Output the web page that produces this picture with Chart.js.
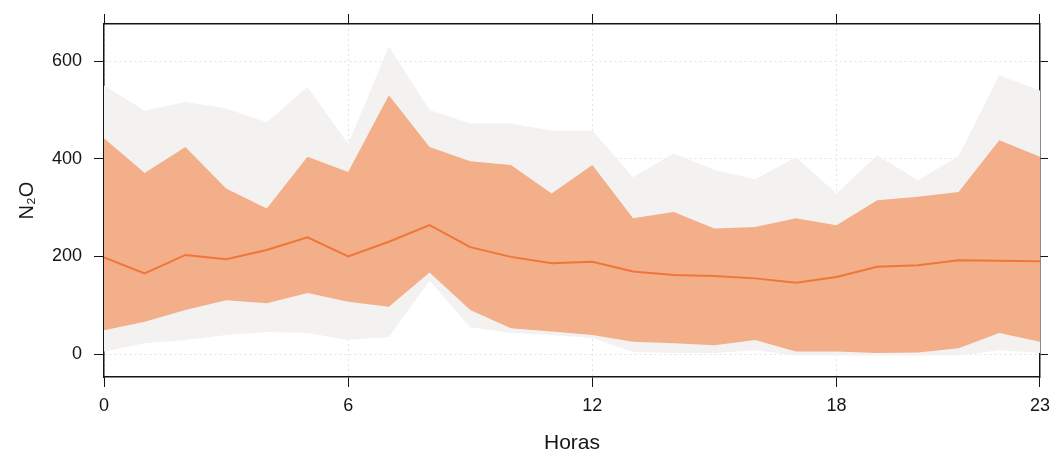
<!DOCTYPE html>
<html>
<head>
<meta charset="utf-8">
<script src="https://cdn.jsdelivr.net/npm/chart.js@4/dist/chart.umd.min.js"></script>
<style>
  html, body { margin: 0; padding: 0; background: #fff; }
</style>
</head>
<body>
<canvas id="myChart" width="1058" height="454"></canvas>
<script>
// hours of the day
var hours = [0,1,2,3,4,5,6,7,8,9,10,11,12,13,14,15,16,17,18,19,20,21,22,23];

// N2O mean per hour
var meanN2O = [198,165,203,194,213,239,200,230,264,219,199,186,189,169,162,160,155,146,158,179,182,192,191,190];

// inner (orange) band
var innerUpper = [442,371,424,339,298,404,373,530,424,395,387,329,387,278,291,257,260,278,264,315,322,332,438,404];
var innerLower = [49,66,90,110,104,125,107,97,167,90,53,46,39,25,22,18,29,5,5,2,3,12,43,25];

// outer (grey) band
var outerUpper = [550,499,516,503,475,547,430,630,500,472,472,458,458,362,411,377,358,403,329,407,356,405,571,540];
var outerLower = [5,22,29,39,45,43,29,35,150,55,43,39,33,4,2,2,8,-3,-3,-3,-3,-3,8,2];

// tick labels
var xTicks = [0, 6, 12, 18, 23];
var yTicks = [0, 200, 400, 600];

function pts(values) {
    return hours.map(function(h, i) { return {x: h, y: values[i]}; });
}

function setTicks(list) {
    return function(scale) {
        scale.ticks = list.map(function(v) { return {value: v}; });
    };
}

function fixSize(w, h) {
    return function(scale) {
        if (w !== null) scale.width = w;
        if (h !== null) scale.height = h;
    };
}

var fontFamily = "'Liberation Sans', Arial, sans-serif";
var ink = '#151515';
var gridGrey = 'rgba(200,200,200,0.5)';

function band(values, color, fill, order) {
    return {
        data: pts(values),
        borderWidth: 0,
        pointRadius: 0,
        backgroundColor: color,
        fill: fill,
        order: order
    };
}

var ctx = document.getElementById("myChart").getContext("2d");

var chartData = {
    datasets: [
        band(outerUpper, 'rgb(243,242,240)', '+1', 3),
        band(outerLower, 'rgb(243,242,240)', false, 3),
        band(innerUpper, 'rgb(243,174,138)', '+1', 2),
        band(innerLower, 'rgb(243,174,138)', false, 2),
        {
            data: pts(meanN2O),
            borderColor: 'rgb(240,118,56)',
            borderWidth: 2,
            pointRadius: 0,
            fill: false,
            order: 1
        }
    ]
};

var chartOptions = {
    responsive: false,
    animation: false,
    layout: { padding: 0 },
    plugins: { legend: { display: false }, tooltip: { enabled: false } },
    scales: {
        x: {
            type: 'linear', position: 'bottom', min: 0, max: 23,
            afterBuildTicks: setTicks(xTicks),
            afterFit: fixSize(null, 77),
            grid: { color: gridGrey, tickColor: ink, tickLength: 10, lineWidth: 1 },
            border: { color: ink, width: 1.5, dash: [2, 3] },
            ticks: { color: ink, padding: 8, maxRotation: 0, font: { family: fontFamily, size: 18 } },
            title: { display: true, text: 'Horas', color: ink, padding: 0,
                     font: { family: fontFamily, size: 21, lineHeight: 1 } }
        },
        x2: {
            type: 'linear', position: 'top', min: 0, max: 23,
            afterBuildTicks: setTicks(xTicks),
            afterFit: fixSize(null, 24),
            grid: { drawOnChartArea: false, tickColor: ink, tickLength: 10 },
            border: { color: ink, width: 1.5 },
            ticks: { display: false }
        },
        y: {
            type: 'linear', position: 'left', min: -47, max: 676,
            afterBuildTicks: setTicks(yTicks),
            afterFit: fixSize(104, null),
            grid: { color: gridGrey, tickColor: ink, tickLength: 10, lineWidth: 1 },
            border: { color: ink, width: 1.5, dash: [2, 3] },
            ticks: { color: ink, padding: 12, font: { family: fontFamily, size: 18 } },
            title: { display: true, text: 'N₂O', color: ink, padding: { top: 17, bottom: 0 },
                     font: { family: fontFamily, size: 20, lineHeight: 1 } }
        },
        y2: {
            type: 'linear', position: 'right', min: -47, max: 676,
            afterBuildTicks: setTicks(yTicks),
            afterFit: fixSize(14, null),
            grid: { drawOnChartArea: false, tickColor: ink, tickLength: 8 },
            border: { color: ink, width: 1.5 },
            ticks: { display: false }
        }
    }
};

var myChart = new Chart(ctx, {
    type: 'line',
    data: chartData,
    options: chartOptions
});
</script>
</body>
</html>
